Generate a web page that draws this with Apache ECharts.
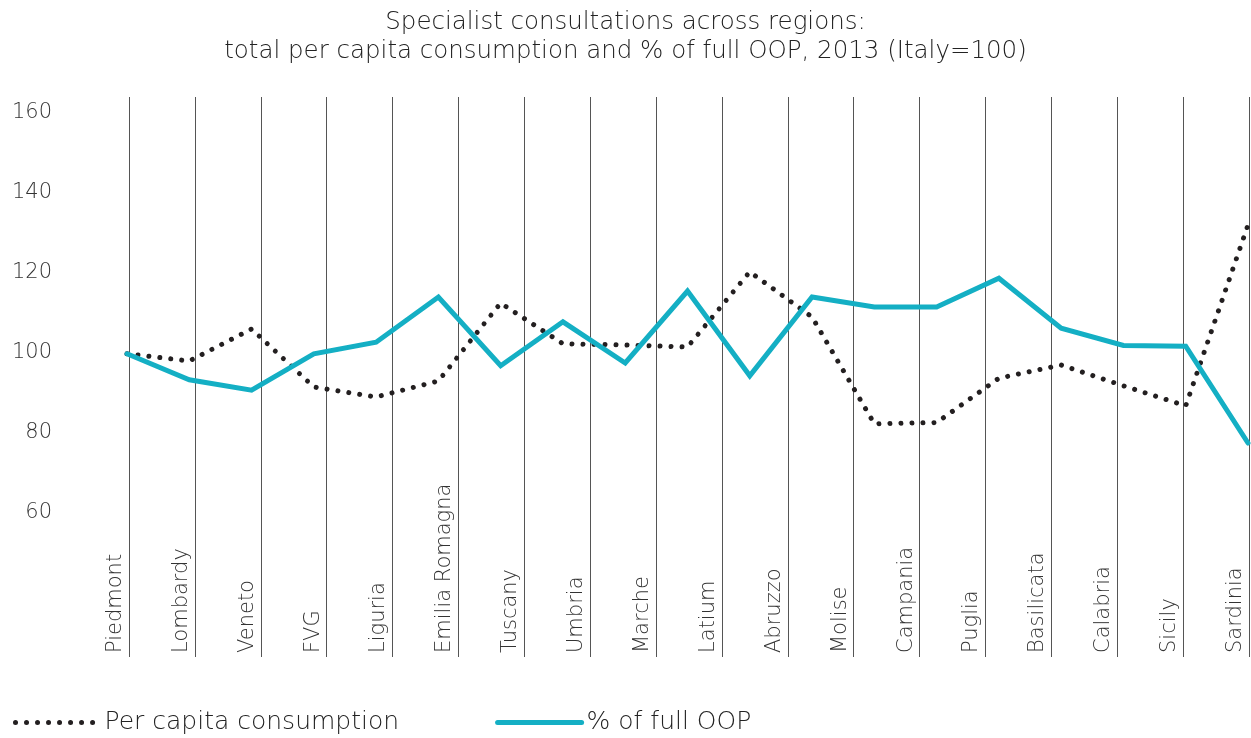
<html>
    <head>
        <meta charset="utf-8">
        <script src="https://cdn.jsdelivr.net/npm/echarts@6/dist/echarts.min.js"></script>
        <style>
            html, body { margin: 0; padding: 0; background: #fff; }
            #main { width: 1251px; height: 738px; }
        </style>
    </head>
    <body>
        <div id="main"></div>

        <script>

            // region labels on the vertical guide lines
            var regions = [
                'Piedmont', 'Lombardy', 'Veneto', 'FVG', 'Liguria', 'Emilia Romagna',
                'Tuscany', 'Umbria', 'Marche', 'Latium', 'Abruzzo', 'Molise',
                'Campania', 'Puglia', 'Basilicata', 'Calabria', 'Sicily', 'Sardinia'
            ];

            // the plotted lines have 19 evenly spaced points (Italy=100)
            var perCapita = [
                99.8, 98, 106, 91.5, 89, 93, 112.5, 102.3, 102, 101.5,
                120.3, 109, 82.3, 82.6, 93.7, 97, 91.8, 86.8, 132
            ];
            var fullOOP = [
                99.8, 93.3, 90.7, 99.8, 102.7, 114, 96.8, 107.8, 97.5, 115.5,
                94.3, 114, 111.5, 111.5, 118.7, 106.2, 101.9, 101.7, 77.5
            ];
            var pointIds = perCapita.map(function (v, i) { return String(i + 1); });

            var yTicks = {min: 60, max: 160, interval: 20};

            var font = 'DejaVu Sans';
            var chart = echarts.init(document.getElementById('main'));

            var dotted = {color: '#231f20', width: 5, type: [0.01, 11], cap: 'round'};
            var solid = {color: '#14afc4', width: 5, cap: 'round', join: 'miter'};

            chart.setOption({
                animation: false,
                title: {
                    text: 'Specialist consultations across regions:\ntotal per capita consumption and % of full OOP, 2013 (Italy=100)',
                    left: 'center',
                    top: 3,
                    textStyle: {
                        fontFamily: font,
                        fontWeight: 200,
                        fontSize: 24.5,
                        lineHeight: 29,
                        color: '#222'
                    }
                },
                legend: {
                    left: 8,
                    top: 705,
                    itemWidth: 84,
                    itemHeight: 14,
                    itemGap: 96,
                    itemStyle: {opacity: 0},
                    textStyle: {
                        fontFamily: font,
                        fontWeight: 200,
                        fontSize: 25,
                        color: '#222'
                    },
                    data: [
                        {name: 'Per capita consumption', lineStyle: dotted},
                        {name: '% of full OOP', lineStyle: solid}
                    ]
                },
                grid: [
                    {left: 129, right: 2, top: 97, bottom: 81, outerBoundsMode: 'none'},
                    {left: 127, right: 3, top: 113, bottom: 225, outerBoundsMode: 'none'}
                ],
                xAxis: [
                    {
                        gridIndex: 0,
                        type: 'category',
                        boundaryGap: false,
                        data: regions,
                        axisLine: {show: false},
                        axisTick: {show: false},
                        splitLine: {
                            show: true,
                            interval: 0,
                            lineStyle: {color: '#555', width: 1}
                        },
                        axisLabel: {
                            inside: true,
                            interval: 0,
                            rotate: 90,
                            margin: 4,
                            align: 'left',
                            verticalAlign: 'bottom',
                            padding: [0, 0, 3, 0],
                            fontFamily: font,
                            fontWeight: 200,
                            fontSize: 21,
                            color: '#333'
                        }
                    },
                    {
                        gridIndex: 1,
                        type: 'category',
                        boundaryGap: false,
                        data: pointIds,
                        show: false
                    }
                ],
                yAxis: [
                    {
                        gridIndex: 0,
                        type: 'value',
                        min: 0,
                        max: 1,
                        show: false
                    },
                    {
                        gridIndex: 1,
                        type: 'value',
                        min: yTicks.min,
                        max: yTicks.max,
                        interval: yTicks.interval,
                        axisLine: {show: false},
                        axisTick: {show: false},
                        splitLine: {show: false},
                        axisLabel: {
                            align: 'right',
                            margin: 75,
                            fontFamily: font,
                            fontWeight: 200,
                            fontSize: 21,
                            color: '#333'
                        }
                    }
                ],
                series: [
                    {
                        name: 'Per capita consumption',
                        type: 'line',
                        xAxisIndex: 1,
                        yAxisIndex: 1,
                        data: perCapita,
                        symbol: 'none',
                        itemStyle: {color: '#231f20'},
                        lineStyle: dotted,
                        z: 3
                    },
                    {
                        name: '% of full OOP',
                        type: 'line',
                        xAxisIndex: 1,
                        yAxisIndex: 1,
                        data: fullOOP,
                        symbol: 'none',
                        itemStyle: {color: '#14afc4'},
                        lineStyle: solid,
                        z: 4
                    }
                ]
            });

        </script>
    </body>
</html>
